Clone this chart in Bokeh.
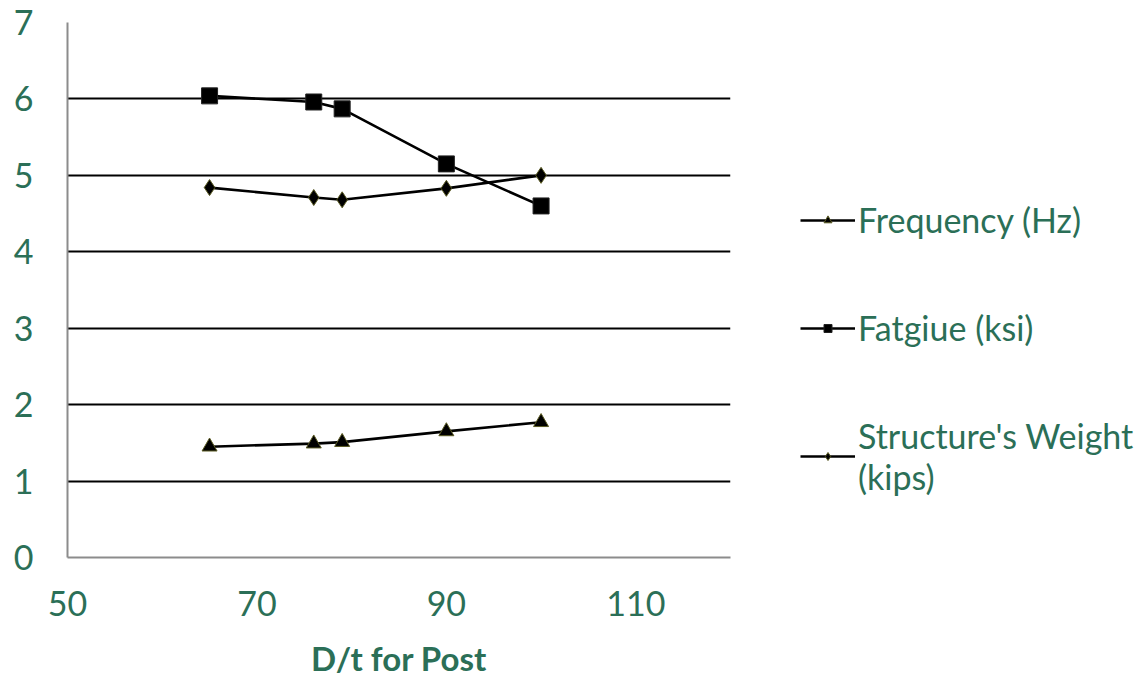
from bokeh.plotting import figure
from bokeh.models import Legend, LegendItem, Range1d, FixedTicker
from bokeh.embed import file_html
from bokeh.resources import INLINE

# D/t ratio of the post and the three response quantities
dt_post = [65, 76, 79, 90, 100]
frequency_hz = [1.45, 1.49, 1.51, 1.65, 1.77]
fatigue_ksi = [6.04, 5.96, 5.87, 5.15, 4.60]
weight_kips = [4.84, 4.71, 4.68, 4.83, 5.00]

x_ticks = [50, 70, 90, 110]
y_ticks = [0, 1, 2, 3, 4, 5, 6, 7]

TEXT_GREEN = "#2b6f57"
FONT = "Lato"

p = figure(
    frame_width=663, frame_height=535,
    x_range=Range1d(50, 120), y_range=Range1d(0, 7),
    output_backend="svg", toolbar_location=None,
    min_border_left=67, min_border_right=0,
    min_border_top=22, min_border_bottom=121,
    outline_line_color=None,
)

# grid: black horizontal rules only
p.xgrid.grid_line_color = None
p.ygrid.grid_line_color = "black"
p.ygrid.grid_line_width = 1.8

for ax in (p.xaxis[0], p.yaxis[0]):
    ax.axis_line_color = "#8c8c8c"
    ax.axis_line_width = 2
    ax.major_tick_out = 0
    ax.major_tick_in = 0
    ax.minor_tick_out = 0
    ax.minor_tick_in = 0
    ax.major_label_text_color = TEXT_GREEN
    ax.major_label_text_font = FONT
    ax.major_label_text_font_size = "34px"

p.xaxis.ticker = FixedTicker(ticks=x_ticks)
p.yaxis.ticker = FixedTicker(ticks=y_ticks)
p.xaxis.major_label_standoff = 33
p.yaxis.major_label_standoff = 34
p.xaxis.axis_label = "D/t for Post"
p.xaxis.axis_label_text_font = FONT
p.xaxis.axis_label_text_font_size = "33px"
p.xaxis.axis_label_text_font_style = "bold"
p.xaxis.axis_label_text_color = TEXT_GREEN
p.xaxis.axis_label_standoff = 19

LINE_W = 2.6
edge = "#5a5a22"

f_line = p.line(dt_post, frequency_hz, line_color="black", line_width=LINE_W)
f_pts = p.scatter(dt_post, frequency_hz, marker="triangle", size=15,
                  fill_color="black", line_color=edge, line_width=1)

g_line = p.line(dt_post, fatigue_ksi, line_color="black", line_width=LINE_W)
g_pts = p.scatter(dt_post, fatigue_ksi, marker="square", size=16,
                  fill_color="black", line_color="#222222", line_width=1)

w_line = p.line(dt_post, weight_kips, line_color="black", line_width=LINE_W)
w_pts = p.scatter(dt_post, weight_kips, marker="diamond", size=16,
                  fill_color="black", line_color=edge, line_width=1)

legend = Legend(
    items=[
        LegendItem(label="Frequency (Hz)", renderers=[f_line, f_pts]),
        LegendItem(label="Fatgiue (ksi)", renderers=[g_line, g_pts]),
        LegendItem(label="Structure's Weight\n(kips)", renderers=[w_line, w_pts]),
    ],
    location=(70, 60),
    orientation="vertical",
    label_text_font=FONT,
    label_text_font_size="34px",
    label_text_color=TEXT_GREEN,
    label_standoff=3,
    glyph_width=55,
    glyph_height=20,
    label_height=40,
    spacing=67,
    padding=0,
    margin=0,
    border_line_color=None,
    background_fill_alpha=0,
)
p.add_layout(legend, "right")

open("out.html", "w").write(file_html(p, INLINE))
